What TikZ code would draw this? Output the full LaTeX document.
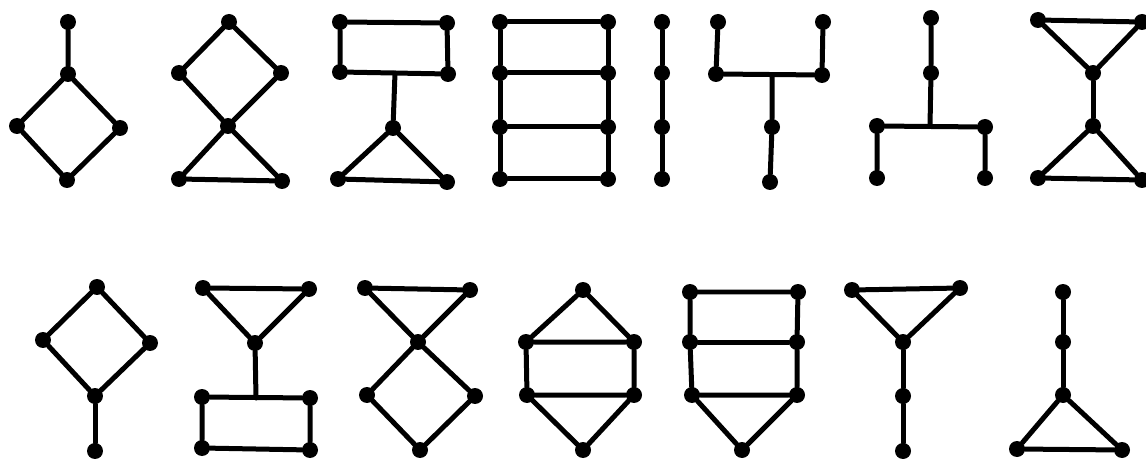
\documentclass[tikz,border=0pt]{standalone}
\begin{document}
\begin{tikzpicture}[
  x=0.02cm, y=-0.02cm,
  vtx/.style={circle, fill=black, inner sep=0pt, minimum size=0.32cm},
  ln/.style={line width=0.1cm, line cap=round}
]
  \useasboundingbox (0,0) rectangle (1146,459);

  % top row
  \node[vtx] (a1) at (68,22) {};
  \node[vtx] (a2) at (68,74) {};
  \node[vtx] (a3) at (17,126) {};
  \node[vtx] (a4) at (120,128) {};
  \node[vtx] (a5) at (67,180) {};
  \draw[ln] (a1) -- (a2) -- (a3) -- (a5) -- (a4) -- (a2);

  \node[vtx] (b1) at (229,22) {};
  \node[vtx] (b2) at (179,73) {};
  \node[vtx] (b3) at (281,73) {};
  \node[vtx] (b4) at (228,126) {};
  \node[vtx] (b5) at (179,179) {};
  \node[vtx] (b6) at (282,181) {};
  \draw[ln] (b2) -- (b1) -- (b3) -- (b4) -- (b2);
  \draw[ln] (b4) -- (b5) -- (b6) -- (b4);

  \node[vtx] (c1) at (340,22) {};
  \node[vtx] (c2) at (447,23) {};
  \node[vtx] (c3) at (340,72) {};
  \node[vtx] (c4) at (448,74) {};
  \coordinate (c0) at (395,73);
  \node[vtx] (c5) at (393,128) {};
  \node[vtx] (c6) at (338,179) {};
  \node[vtx] (c7) at (447,182) {};
  \draw[ln] (c1) -- (c2) -- (c4) -- (c3) -- (c1);
  \draw[ln] (c0) -- (c5);
  \draw[ln] (c5) -- (c6) -- (c7) -- (c5);

  \node[vtx] (d1) at (500,22) {};
  \node[vtx] (d2) at (500,73) {};
  \node[vtx] (d3) at (500,127) {};
  \node[vtx] (d4) at (500,179) {};
  \node[vtx] (d5) at (608,22) {};
  \node[vtx] (d6) at (608,73) {};
  \node[vtx] (d7) at (608,127) {};
  \node[vtx] (d8) at (608,179) {};
  \draw[ln] (d1) -- (d2) -- (d3) -- (d4);
  \draw[ln] (d5) -- (d6) -- (d7) -- (d8);
  \draw[ln] (d1) -- (d5);
  \draw[ln] (d2) -- (d6);
  \draw[ln] (d3) -- (d7);
  \draw[ln] (d4) -- (d8);

  \node[vtx] (e1) at (662,22) {};
  \node[vtx] (e2) at (662,73) {};
  \node[vtx] (e3) at (662,127) {};
  \node[vtx] (e4) at (662,179) {};
  \draw[ln] (e1) -- (e2) -- (e3) -- (e4);

  \node[vtx] (f1) at (718,22) {};
  \node[vtx] (f2) at (716,74) {};
  \node[vtx] (f3) at (823,22) {};
  \node[vtx] (f4) at (822,75) {};
  \coordinate (f0) at (772,75);
  \node[vtx] (f5) at (772,127) {};
  \node[vtx] (f6) at (770,182) {};
  \draw[ln] (f1) -- (f2) -- (f4) -- (f3);
  \draw[ln] (f0) -- (f5) -- (f6);

  \node[vtx] (g1) at (931,18) {};
  \node[vtx] (g2) at (931,73) {};
  \coordinate (g0) at (930,126);
  \node[vtx] (g3) at (877,126) {};
  \node[vtx] (g4) at (985,127) {};
  \node[vtx] (g5) at (877,178) {};
  \node[vtx] (g6) at (985,178) {};
  \draw[ln] (g1) -- (g2) -- (g0);
  \draw[ln] (g5) -- (g3) -- (g4) -- (g6);

  \node[vtx] (h1) at (1038,20) {};
  \node[vtx] (h2) at (1142,22) {};
  \node[vtx] (h3) at (1093,73) {};
  \node[vtx] (h4) at (1093,126) {};
  \node[vtx] (h5) at (1038,178) {};
  \node[vtx] (h6) at (1142,180) {};
  \draw[ln] (h1) -- (h2) -- (h3) -- (h1);
  \draw[ln] (h3) -- (h4);
  \draw[ln] (h4) -- (h5) -- (h6) -- (h4);

  % bottom row
  \node[vtx] (i1) at (97,287) {};
  \node[vtx] (i2) at (43,340) {};
  \node[vtx] (i3) at (150,343) {};
  \node[vtx] (i4) at (95,396) {};
  \node[vtx] (i5) at (95,451) {};
  \draw[ln] (i2) -- (i1) -- (i3) -- (i4) -- (i2);
  \draw[ln] (i4) -- (i5);

  \node[vtx] (j1) at (203,288) {};
  \node[vtx] (j2) at (309,289) {};
  \node[vtx] (j3) at (255,343) {};
  \coordinate (j0) at (256,398);
  \node[vtx] (j4) at (202,397) {};
  \node[vtx] (j5) at (310,398) {};
  \node[vtx] (j6) at (202,448) {};
  \node[vtx] (j7) at (310,450) {};
  \draw[ln] (j1) -- (j2) -- (j3) -- (j1);
  \draw[ln] (j3) -- (j0);
  \draw[ln] (j4) -- (j5) -- (j7) -- (j6) -- (j4);

  \node[vtx] (k1) at (365,288) {};
  \node[vtx] (k2) at (470,290) {};
  \node[vtx] (k3) at (418,342) {};
  \node[vtx] (k4) at (367,395) {};
  \node[vtx] (k5) at (475,396) {};
  \node[vtx] (k6) at (420,450) {};
  \draw[ln] (k1) -- (k2) -- (k3) -- (k1);
  \draw[ln] (k4) -- (k3) -- (k5) -- (k6) -- (k4);

  \node[vtx] (l1) at (583,290) {};
  \node[vtx] (l2) at (526,342) {};
  \node[vtx] (l3) at (634,342) {};
  \node[vtx] (l4) at (527,395) {};
  \node[vtx] (l5) at (634,395) {};
  \node[vtx] (l6) at (583,450) {};
  \draw[ln] (l2) -- (l1) -- (l3) -- (l2) -- (l4) -- (l5) -- (l3);
  \draw[ln] (l4) -- (l6) -- (l5);

  \node[vtx] (m1) at (690,292) {};
  \node[vtx] (m2) at (798,292) {};
  \node[vtx] (m3) at (690,342) {};
  \node[vtx] (m4) at (797,342) {};
  \node[vtx] (m5) at (692,395) {};
  \node[vtx] (m6) at (797,395) {};
  \node[vtx] (m7) at (742,450) {};
  \draw[ln] (m1) -- (m2) -- (m4) -- (m6) -- (m5) -- (m3) -- (m1);
  \draw[ln] (m3) -- (m4);
  \draw[ln] (m5) -- (m7) -- (m6);

  \node[vtx] (n1) at (852,290) {};
  \node[vtx] (n2) at (960,288) {};
  \node[vtx] (n3) at (903,342) {};
  \node[vtx] (n4) at (903,396) {};
  \node[vtx] (n5) at (903,451) {};
  \draw[ln] (n1) -- (n2) -- (n3) -- (n1);
  \draw[ln] (n3) -- (n4) -- (n5);

  \node[vtx] (o1) at (1063,292) {};
  \node[vtx] (o2) at (1063,342) {};
  \node[vtx] (o3) at (1063,395) {};
  \node[vtx] (o4) at (1017,449) {};
  \node[vtx] (o5) at (1122,450) {};
  \draw[ln] (o1) -- (o2) -- (o3);
  \draw[ln] (o4) -- (o3) -- (o5) -- (o4);
\end{tikzpicture}
\end{document}
